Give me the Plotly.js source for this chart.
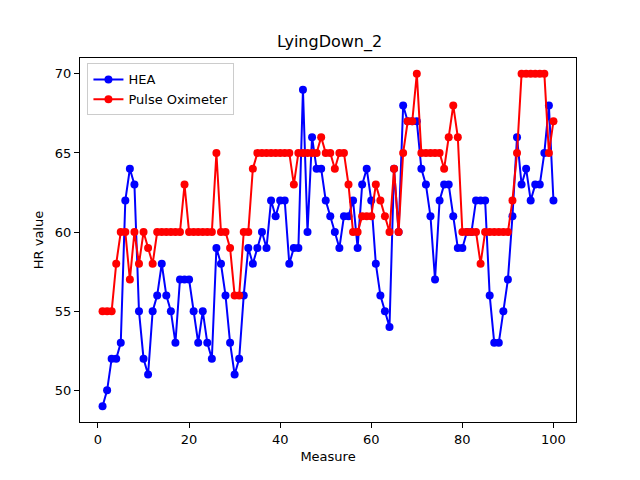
<!DOCTYPE html>
<html>
<head>
<script src="https://cdn.plot.ly/plotly-3.0.1.min.js"></script>
<style>body{margin:0}</style>
</head>
<body>
<div id="chart" style="width:640px;height:480px"></div>
<script>
// HR readings, measures 1..100
const hea = [49,50,52,52,53,62,64,63,55,52, 51,55,56,58,56,55,53,57,57,57,
  55,53,55,53,52,59,58,56,53,51, 52,56,59,58,59,60,59,62,61,62,
  62,58,59,59,69,60,66,64,64,62, 61,60,59,61,61,62,59,63,64,62,
  58,56,55,54,64,60,68,67,67,67, 64,63,61,57,62,63,63,61,59,59,
  60,60,62,62,62,56,53,53,55,57, 61,66,63,64,62,63,63,65,68,62];
const pulse = [55,55,55,58,60,60,57,60,58,60, 59,58,60,60,60,60,60,60,63,60,
  60,60,60,60,60,65,60,60,59,56, 56,60,60,64,65,65,65,65,65,65,
  65,65,63,65,65,65,65,65,66,65, 65,64,65,65,63,60,60,61,61,61,
  63,62,61,60,64,60,65,67,67,70, 65,65,65,65,65,64,66,68,66,60,
  60,60,60,58,60,60,60,60,60,60, 62,65,70,70,70,70,70,70,65,67];
const measure = hea.map((_, i) => i + 1);

const line = (y, name, color) => ({
  x: measure, y: y, name: name, type: 'scatter', mode: 'lines+markers',
  line: {color: color, width: 2}, marker: {color: color, size: 8}
});

const ax = {
  showgrid: false, zeroline: false, showline: true, mirror: true,
  linecolor: 'black', linewidth: 1, ticks: 'outside', ticklen: 5,
  tickcolor: 'black', tickfont: {size: 13}
};

Plotly.newPlot('chart', [line(hea, 'HEA', 'blue'), line(pulse, 'Pulse Oximeter', 'red')], {
  width: 640, height: 480,
  font: {family: 'DejaVu Sans', color: 'black'},
  margin: {l: 80, r: 64, t: 58, b: 58},
  paper_bgcolor: 'white', plot_bgcolor: 'white',
  title: {text: 'LyingDown_2', font: {size: 16}, x: 0.515, y: 0.925},
  xaxis: Object.assign({}, ax, {range: [-3.95, 104.95], tickvals: [0, 20, 40, 60, 80, 100],
    title: {text: 'Measure', font: {size: 13}, standoff: 6}}),
  yaxis: Object.assign({}, ax, {range: [48, 71], tickvals: [50, 55, 60, 65, 70],
    title: {text: 'HR value', font: {size: 13}, standoff: 8}}),
  legend: {x: 0.015, y: 0.985, xanchor: 'left', yanchor: 'top', bgcolor: 'white',
    bordercolor: '#ccc', borderwidth: 1, font: {size: 13}},
  showlegend: true
}, {displayModeBar: false});
</script>
</body>
</html>
